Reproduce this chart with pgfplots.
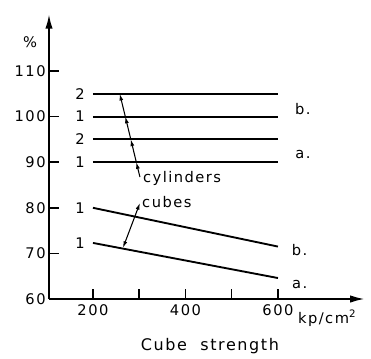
\documentclass[border=0pt]{standalone}
\usepackage{pgfplots}
\pgfplotsset{compat=1.18}
\usetikzlibrary{arrows.meta}
\usepackage{fontspec}
\setmainfont{DejaVu Sans}[LetterSpace=10]
\begin{document}
\begin{tikzpicture}
\useasboundingbox (0,0) rectangle (278.25pt,268.5pt);
\begin{axis}[
  at={(36.75pt,44.25pt)}, anchor=origin,
  x=0.346875pt, y=3.42pt,
  scale only axis,
  xmin=105, xmax=788, ymin=60, ymax=122.5,
  axis lines=left,
  axis line style={line width=1.5pt, -{Latex[length=11pt,width=5.5pt]}},
  tick align=inside,
  major tick length=7.5pt,
  xtick style={line width=1.2pt, black},
  ytick style={line width=1.2pt, black},
  xtick={200,300,400,500,600},
  xticklabels={200,,400,,600},
  ytick={60,70,80,90,100,110},
  /pgf/number format/assume math mode=true,
  ticklabel style={font=\fontsize{11}{12}\selectfont},
  xticklabel style={yshift=-1pt},
  yticklabel style={xshift=1pt},
  clip=false,
]
\addplot[black, line width=1.4pt] coordinates {(200,105) (600,105)};
\addplot[black, line width=1.4pt] coordinates {(200,100) (600,100)};
\addplot[black, line width=1.4pt] coordinates {(200,95) (600,95)};
\addplot[black, line width=1.4pt] coordinates {(200,90) (600,90)};
\addplot[black, line width=1.4pt] coordinates {(200,80) (600,71.5)};
\addplot[black, line width=1.4pt] coordinates {(200,72.3) (600,64.6)};
% cylinder arrows
\addplot[black, line width=0.8pt, -{Latex[length=5pt,width=3pt]}] coordinates {(301.6,86.75) (293.8,90)};
\addplot[black, line width=0.8pt, -{Latex[length=5pt,width=3pt]}] coordinates {(293.8,90) (281.9,95)};
\addplot[black, line width=0.8pt, -{Latex[length=5pt,width=3pt]}] coordinates {(281.9,95) (270,100)};
\addplot[black, line width=0.8pt, -{Latex[length=5pt,width=3pt]}] coordinates {(270,100) (258,105)};
% cubes arrow
\addplot[black, line width=0.8pt, {Latex[length=5pt,width=3pt]}-{Latex[length=5pt,width=3pt]}] coordinates {(301.6,81.05) (264.9,71.2)};
\begin{scope}[font=\fontsize{11}{12}\selectfont]
\node at (axis cs:172,105) {2};
\node at (axis cs:172,100) {1};
\node at (axis cs:172,95) {2};
\node at (axis cs:172,90) {1};
\node at (axis cs:172,80) {1};
\node at (axis cs:172,72.3) {1};
\node at (axis cs:654,101.7) {b.};
\node at (axis cs:654,91.6) {a.};
\node at (axis cs:647,70.7) {b.};
\node at (axis cs:647,63.1) {a.};
\node[anchor=west, inner sep=0pt] at (axis cs:308,86.5) {cylinders};
\node[anchor=west, inner sep=0pt] at (axis cs:306,81.3) {cubes};
\node at (axis cs:64,116.3) {\%};
\node[anchor=west, inner sep=0pt] at (axis cs:643,55.8) {kp/cm\textsuperscript{2}};
\node[font=\fontsize{12}{13}\selectfont] at (axis cs:453,49.7) {Cube\ \ strength};
\end{scope}
\end{axis}
\end{tikzpicture}
\end{document}
